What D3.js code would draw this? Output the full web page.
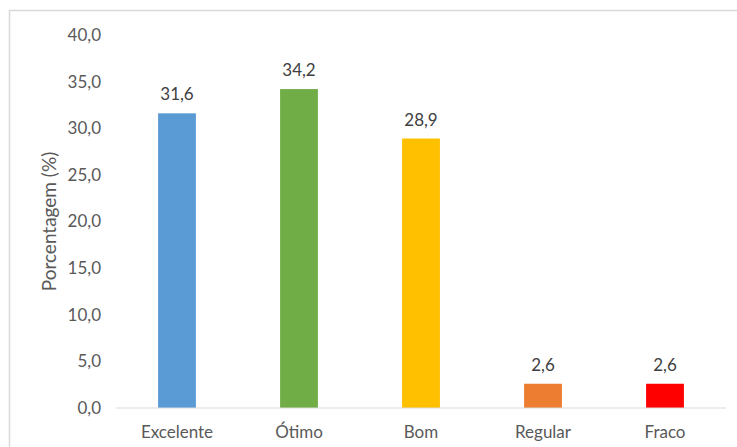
<!DOCTYPE html>
<html><head><meta charset="utf-8">
<script src="https://cdn.jsdelivr.net/npm/d3@7"></script>
<style>body{margin:0;background:#fff;} text{font-family:Lato, "Open Sans", sans-serif;}</style>
</head><body>
<svg id="c" width="737" height="447"></svg>
<script>
const categories = ["Excelente", "Ótimo", "Bom", "Regular", "Fraco"];
const values = [31.6, 34.2, 28.9, 2.6, 2.6];
const colors = ["#5B9BD5", "#70AD47", "#FFC000", "#ED7D31", "#FF0000"];
const yTicks = [0, 5, 10, 15, 20, 25, 30, 35, 40];
const yTitle = "Porcentagem (%)";

const svg = d3.select("#c");
// chart frame
svg.append("path").attr("d", "M9.5,460V10.5H740").attr("fill","none").attr("stroke","#d9d9d9").attr("stroke-width",1.5);

const x = d3.scaleBand().domain(categories).range([116, 726]).paddingInner(0.69).paddingOuter(0.345);
const y = d3.scaleLinear().domain([0, 40]).range([408, 35]);
const fmt = v => d3.format(".1f")(v).replace(".", ",");

// y tick labels
svg.append("g").selectAll("text").data(yTicks).join("text")
  .attr("x", 101).attr("y", d => y(d)).attr("dy", "0.35em")
  .attr("text-anchor", "end").attr("fill", "#595959").attr("font-size", 17)
  .text(fmt);

// bars
svg.append("g").selectAll("rect").data(values).join("rect")
  .attr("x", (d,i) => x(categories[i])).attr("width", x.bandwidth())
  .attr("y", d => y(d)).attr("height", d => y(0) - y(d))
  .attr("fill", (d,i) => colors[i]);

// baseline
svg.append("line").attr("x1", 116).attr("x2", 726).attr("y1", y(0)).attr("y2", y(0))
  .attr("stroke", "#d9d9d9").attr("stroke-width", 1);

// value labels
svg.append("g").selectAll("text").data(values).join("text")
  .attr("x", (d,i) => x(categories[i]) + x.bandwidth()/2).attr("y", d => y(d) - 13)
  .attr("text-anchor", "middle").attr("fill", "#404040").attr("font-size", 17)
  .text(fmt);

// category labels
svg.append("g").selectAll("text").data(categories).join("text")
  .attr("x", d => x(d) + x.bandwidth()/2).attr("y", 438)
  .attr("text-anchor", "middle").attr("fill", "#595959").attr("font-size", 17)
  .text(d => d);

// y title
svg.append("text").attr("transform", `translate(56,${(y(0)+y(40))/2}) rotate(-90)`)
  .attr("text-anchor", "middle").attr("fill", "#595959").attr("font-size", 19)
  .text(yTitle);
</script>
</body></html>
